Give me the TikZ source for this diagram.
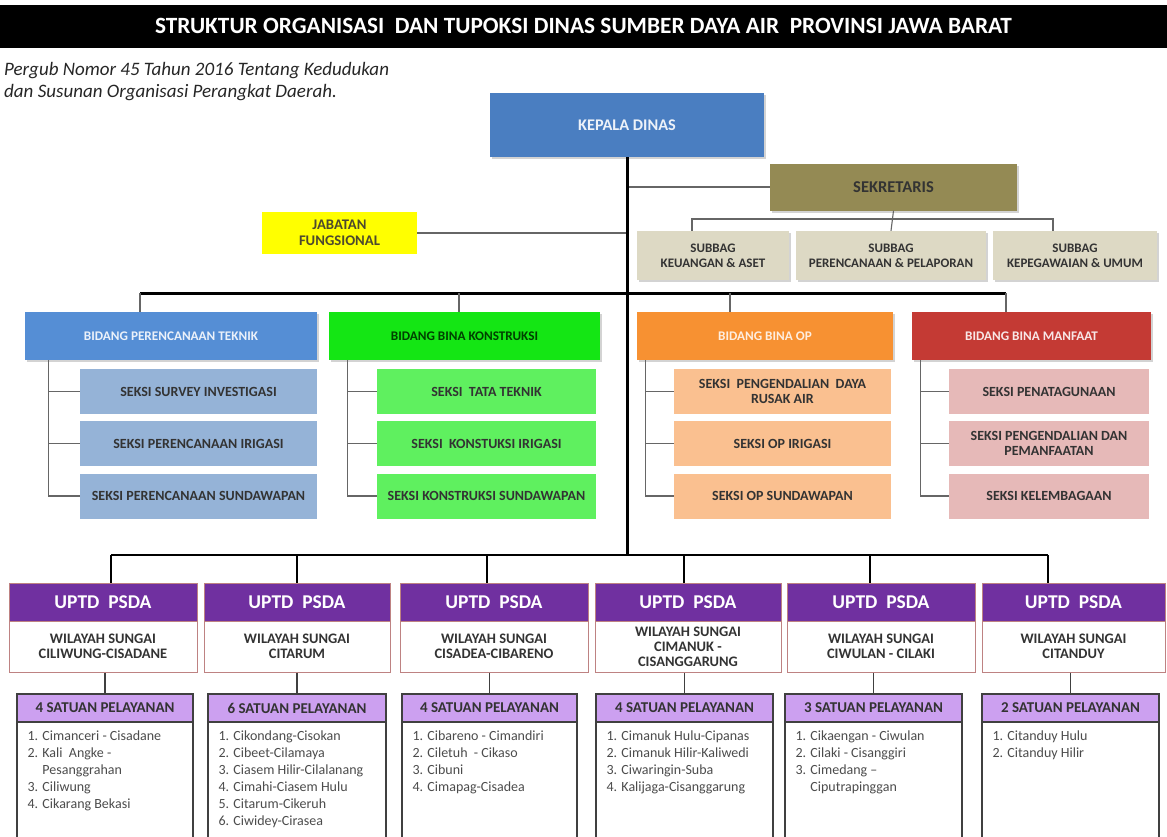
\documentclass[tikz,border=0pt]{standalone}
\usepackage{fontspec}
\setmainfont{Carlito}
\usetikzlibrary{shadows}

\definecolor{cKepala}{RGB}{74,126,193}
\definecolor{cSekre}{RGB}{148,138,84}
\definecolor{cSubbag}{RGB}{221,217,196}
\definecolor{cJabatan}{RGB}{255,255,0}
\definecolor{cBiru}{RGB}{85,142,213}
\definecolor{cBiruMuda}{RGB}{149,179,215}
\definecolor{cHijau}{RGB}{20,230,20}
\definecolor{cHijauMuda}{RGB}{95,240,95}
\definecolor{cOranye}{RGB}{247,145,50}
\definecolor{cOranyeMuda}{RGB}{250,192,144}
\definecolor{cMerah}{RGB}{196,58,52}
\definecolor{cMerahMuda}{RGB}{230,185,184}
\definecolor{cUngu}{RGB}{112,48,160}
\definecolor{cLila}{RGB}{204,160,240}
\definecolor{cTepi}{RGB}{190,130,130}

\tikzset{
  kotak/.style={rectangle, align=center, inner sep=1pt, text=black!80,
    font=\bfseries\fontsize{13.2}{14.5}\selectfont},
  bayang/.style={drop shadow={opacity=0.35, shadow xshift=2pt, shadow yshift=-2pt}},
  garis/.style={draw=black!60, line width=1.1pt},
  batang/.style={draw=black, line width=3pt},
  jalur/.style={draw=black, line width=3pt},
  jalurb/.style={draw=black, line width=1.8pt},
  seksi/.style={kotak, minimum height=45pt, font=\bfseries\fontsize{14}{15}\selectfont},
  uptd/.style={rectangle, fill=cUngu, draw=cTepi, line width=1pt, text=white,
    font=\bfseries\fontsize{19.5}{22}\selectfont, minimum height=38pt},
  wilayah/.style={rectangle, fill=white, draw=cTepi, line width=1pt, align=center, inner sep=0pt,
    text=black!80, font=\bfseries\fontsize{14.5}{15}\selectfont, minimum height=51pt},
  satuan/.style={rectangle, fill=cLila, draw=black!75, line width=1.2pt, text=black!80,
    font=\bfseries\fontsize{15}{16}\selectfont, minimum height=28pt},
  daftar/.style={rectangle, fill=white, draw=black!75, line width=1.2pt, minimum height=116pt},
  isi/.style={anchor=north west, align=left, inner sep=0pt, xshift=11pt, yshift=-9pt,
    text=black!70, font=\fontsize{14}{17}\selectfont}
}

\begin{document}
\begin{tikzpicture}[x=1pt,y=-1pt]
\useasboundingbox (0,0) rectangle (1167,836);

\node[rectangle, fill=black, text=white, minimum width=1167pt, minimum height=43pt,
  font=\bfseries\fontsize{23.3}{26}\selectfont] (judul) at (583.5,26)
  {STRUKTUR ORGANISASI\ \ DAN TUPOKSI DINAS SUMBER DAYA AIR\ \ PROVINSI JAWA BARAT};
\node[anchor=north west, align=left, inner sep=0pt, text=black!85,
  font=\itshape\fontsize{19}{22}\selectfont] (pergub) at (4,62)
  {Pergub Nomor 45 Tahun 2016 Tentang Kedudukan\\dan Susunan Organisasi Perangkat Daerah.};

\node[kotak, bayang, fill=cKepala, text=white!90!cKepala, minimum width=274pt, minimum height=64pt,
  font=\bfseries\fontsize{16.3}{18}\selectfont] (kepala) at (627,125) {KEPALA DINAS};
\node[kotak, bayang, fill=cSekre, minimum width=247pt, minimum height=47pt,
  font=\bfseries\fontsize{16.5}{18}\selectfont] (sekretaris) at (893.5,187) {SEKRETARIS};
\node[kotak, bayang, fill=cSubbag, minimum width=152pt, minimum height=49pt, font=\bfseries\fontsize{13}{15}\selectfont]
  (sub1) at (713,255.5) {SUBBAG\\KEUANGAN \& ASET};
\node[kotak, bayang, fill=cSubbag, minimum width=190pt, minimum height=49pt, font=\bfseries\fontsize{13}{15}\selectfont]
  (sub2) at (891,255.5) {SUBBAG\\PERENCANAAN \& PELAPORAN};
\node[kotak, bayang, fill=cSubbag, minimum width=164pt, minimum height=49pt, font=\bfseries\fontsize{13}{15}\selectfont]
  (sub3) at (1075,255.5) {SUBBAG\\KEPEGAWAIAN \& UMUM};
\node[kotak, fill=cJabatan, text=black!60!olive, minimum width=155pt, minimum height=42pt,
  font=\bfseries\fontsize{14.7}{16}\selectfont] (jabatan) at (339.5,233) {JABATAN\\FUNGSIONAL};

\node[kotak, bayang, fill=cBiru, text=white!88!cBiru, minimum width=292pt, minimum height=48pt] (bid1) at (171,336) {BIDANG PERENCANAAN TEKNIK};
\node[kotak, bayang, fill=cHijau, text=black!75!green, minimum width=271pt, minimum height=48pt] (bid2) at (464.5,336) {BIDANG BINA KONSTRUKSI};
\node[kotak, bayang, fill=cOranye, text=white!85!cOranye, minimum width=256pt, minimum height=48pt] (bid3) at (765,336) {BIDANG BINA OP};
\node[kotak, bayang, fill=cMerah, text=white!88!cMerah, minimum width=239pt, minimum height=48pt] (bid4) at (1031.5,336) {BIDANG BINA MANFAAT};

\node[seksi, fill=cBiruMuda, minimum width=237pt] (s11) at (198.5,391.5) {SEKSI SURVEY INVESTIGASI};
\node[seksi, fill=cBiruMuda, minimum width=237pt] (s12) at (198.5,443.5) {SEKSI PERENCANAAN IRIGASI};
\node[seksi, fill=cBiruMuda, minimum width=237pt] (s13) at (198.5,496) {SEKSI PERENCANAAN SUNDAWAPAN};
\node[seksi, fill=cHijauMuda, minimum width=219pt] (s21) at (486.5,391.5) {SEKSI\ \ TATA TEKNIK};
\node[seksi, fill=cHijauMuda, minimum width=219pt] (s22) at (486.5,443.5) {SEKSI\ \ KONSTUKSI IRIGASI};
\node[seksi, fill=cHijauMuda, minimum width=219pt] (s23) at (486.5,496) {SEKSI KONSTRUKSI SUNDAWAPAN};
\node[seksi, fill=cOranyeMuda, minimum width=217pt] (s31) at (782.5,391.5) {SEKSI\ \ PENGENDALIAN\ \ DAYA\\RUSAK AIR};
\node[seksi, fill=cOranyeMuda, minimum width=217pt] (s32) at (782.5,443.5) {SEKSI OP IRIGASI};
\node[seksi, fill=cOranyeMuda, minimum width=217pt] (s33) at (782.5,496) {SEKSI OP SUNDAWAPAN};
\node[seksi, fill=cMerahMuda, minimum width=200pt] (s41) at (1049,391.5) {SEKSI PENATAGUNAAN};
\node[seksi, fill=cMerahMuda, minimum width=200pt] (s42) at (1049,443.5) {SEKSI PENGENDALIAN DAN\\PEMANFAATAN};
\node[seksi, fill=cMerahMuda, minimum width=200pt] (s43) at (1049,496) {SEKSI KELEMBAGAAN};

\node[uptd, minimum width=188pt] (uptd1) at (103,602) {UPTD\ \ PSDA};
\node[uptd, minimum width=186pt] (uptd2) at (297,602) {UPTD\ \ PSDA};
\node[uptd, minimum width=188pt] (uptd3) at (494,602) {UPTD\ \ PSDA};
\node[uptd, minimum width=186pt] (uptd4) at (688,602) {UPTD\ \ PSDA};
\node[uptd, minimum width=188pt] (uptd5) at (881,602) {UPTD\ \ PSDA};
\node[uptd, minimum width=183pt] (uptd6) at (1073.5,602) {UPTD\ \ PSDA};
\node[wilayah, minimum width=188pt] (wil1) at (103,646.5) {WILAYAH SUNGAI\\CILIWUNG-CISADANE};
\node[wilayah, minimum width=186pt] (wil2) at (297,646.5) {WILAYAH SUNGAI\\CITARUM};
\node[wilayah, minimum width=188pt] (wil3) at (494,646.5) {WILAYAH SUNGAI\\CISADEA-CIBARENO};
\node[wilayah, minimum width=186pt] (wil4) at (688,646.5) {WILAYAH SUNGAI\\CIMANUK -\\CISANGGARUNG};
\node[wilayah, minimum width=188pt] (wil5) at (881,646.5) {WILAYAH SUNGAI\\CIWULAN - CILAKI};
\node[wilayah, minimum width=183pt] (wil6) at (1073.5,646.5) {WILAYAH SUNGAI\\CITANDUY};

\node[satuan, minimum width=176pt] (sat1) at (105,708) {4 SATUAN PELAYANAN};
\node[satuan, minimum width=178pt] (sat2) at (297,708) {6 SATUAN PELAYANAN};
\node[satuan, minimum width=175pt] (sat3) at (489.5,708) {4 SATUAN PELAYANAN};
\node[satuan, minimum width=177pt] (sat4) at (684.5,708) {4 SATUAN PELAYANAN};
\node[satuan, minimum width=177pt] (sat5) at (873.5,708) {3 SATUAN PELAYANAN};
\node[satuan, minimum width=177pt] (sat6) at (1070.5,708) {2 SATUAN PELAYANAN};
\node[daftar, minimum width=176pt] (daf1) at (105,780) {};
\node[daftar, minimum width=178pt] (daf2) at (297,780) {};
\node[daftar, minimum width=175pt] (daf3) at (489.5,780) {};
\node[daftar, minimum width=177pt] (daf4) at (684.5,780) {};
\node[daftar, minimum width=177pt] (daf5) at (873.5,780) {};
\node[daftar, minimum width=177pt] (daf6) at (1070.5,780) {};
\node[isi] (isi1) at (daf1.north west) {1. Cimanceri - Cisadane\\2. Kali\ \ Angke -\\\phantom{2. }Pesanggrahan\\3. Ciliwung\\4. Cikarang Bekasi};
\node[isi] (isi2) at (daf2.north west) {1. Cikondang-Cisokan\\2. Cibeet-Cilamaya\\3. Ciasem Hilir-Cilalanang\\4. Cimahi-Ciasem Hulu\\5. Citarum-Cikeruh\\6. Ciwidey-Cirasea};
\node[isi] (isi3) at (daf3.north west) {1. Cibareno - Cimandiri\\2. Ciletuh\ \ - Cikaso\\3. Cibuni\\4. Cimapag-Cisadea};
\node[isi] (isi4) at (daf4.north west) {1. Cimanuk Hulu-Cipanas\\2. Cimanuk Hilir-Kaliwedi\\3. Ciwaringin-Suba\\4. Kalijaga-Cisanggarung};
\node[isi] (isi5) at (daf5.north west) {1. Cikaengan - Ciwulan\\2. Cilaki - Cisanggiri\\3. Cimedang --\\\phantom{3. }Ciputrapinggan};
\node[isi] (isi6) at (daf6.north west) {1. Citanduy Hulu\\2. Citanduy Hilir};

\coordinate (pusat) at (627,555);
\coordinate (sb1) at (692,219);
\coordinate (sb3) at (1053,219);
\coordinate (bb1) at (140,293);
\coordinate (bb2) at (459,293);
\coordinate (bb3) at (730,293);
\coordinate (bb4) at (1006,293);
\coordinate (ub1) at (111,555);
\coordinate (ub2) at (297,555);
\coordinate (ub3) at (487,555);
\coordinate (ub4) at (684,555);
\coordinate (ub5) at (870,555);
\coordinate (ub6) at (1048,555);

\draw[garis] (kepala.south |- sekretaris.west) -- (sekretaris.west);
\draw[garis] (jabatan.east) -- (jabatan.east -| kepala.south);
\draw[garis] (sekretaris.south) -- (sub2.north);
\draw[garis] (sb1 |- sub1.north) -- (sb1) -- (sb3) -- (sb3 |- sub3.north);
\draw[batang] (kepala.south) -- (pusat);
\draw[jalur] (bb1) -- (bb4);
\draw[garis] (bb1) -- (bb1 |- bid1.north);
\draw[garis] (bb2) -- (bb2 |- bid2.north);
\draw[garis] (bb3) -- (bb3 |- bid3.north);
\draw[garis] (bb4) -- (bb4 |- bid4.north);
\draw[garis] (bid1.south west) ++(24,0) |- (s13.west);
\draw[garis] (s11.west) -- ++(-31,0);
\draw[garis] (s12.west) -- ++(-31,0);
\draw[garis] (bid2.south west) ++(19,0) |- (s23.west);
\draw[garis] (s21.west) -- ++(-29,0);
\draw[garis] (s22.west) -- ++(-29,0);
\draw[garis] (bid3.south west) ++(9,0) |- (s33.west);
\draw[garis] (s31.west) -- ++(-28,0);
\draw[garis] (s32.west) -- ++(-28,0);
\draw[garis] (bid4.south west) ++(9,0) |- (s43.west);
\draw[garis] (s41.west) -- ++(-28,0);
\draw[garis] (s42.west) -- ++(-28,0);
\draw[jalurb] (ub1) -- (ub6);
\draw[jalurb] (ub1) -- (ub1 |- uptd1.north);
\draw[jalurb] (ub2) -- (ub2 |- uptd2.north);
\draw[jalurb] (ub3) -- (ub3 |- uptd3.north);
\draw[jalurb] (ub4) -- (ub4 |- uptd4.north);
\draw[jalurb] (ub5) -- (ub5 |- uptd5.north);
\draw[jalurb] (ub6) -- (ub6 |- uptd6.north);
\draw[garis, draw=black!75] (sat1.north |- wil1.south) -- (sat1.north);
\draw[garis, draw=black!75] (sat2.north |- wil2.south) -- (sat2.north);
\draw[garis, draw=black!75] (sat3.north |- wil3.south) -- (sat3.north);
\draw[garis, draw=black!75] (sat4.north |- wil4.south) -- (sat4.north);
\draw[garis, draw=black!75] (sat5.north |- wil5.south) -- (sat5.north);
\draw[garis, draw=black!75] (sat6.north |- wil6.south) -- (sat6.north);
\end{tikzpicture}
\end{document}
